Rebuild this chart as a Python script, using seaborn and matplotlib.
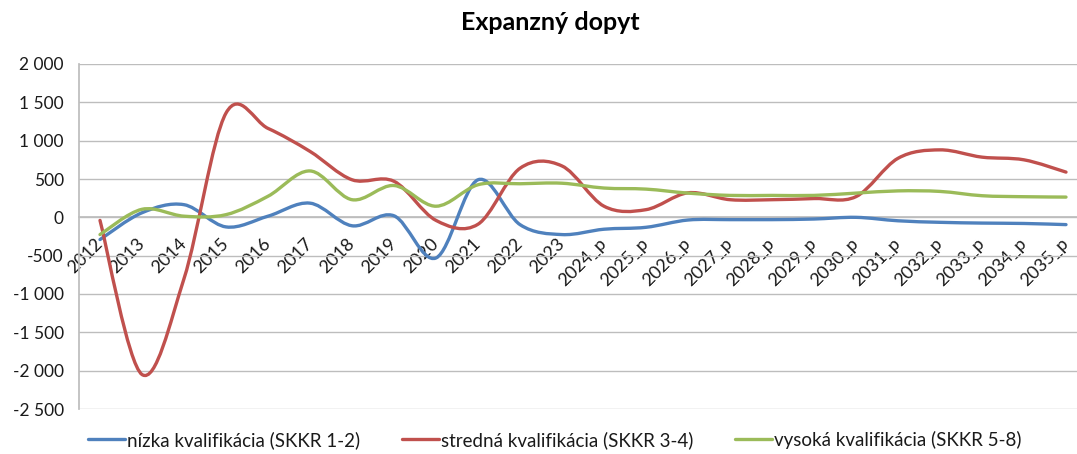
import numpy as np
import pandas as pd
import matplotlib
matplotlib.use("Agg")
import matplotlib.pyplot as plt
from matplotlib.path import Path
from matplotlib.patches import PathPatch
from matplotlib.lines import Line2D
from matplotlib.ticker import FuncFormatter
import seaborn as sns

# data
years = ["2012", "2013", "2014", "2015", "2016", "2017", "2018", "2019", "2020", "2021",
         "2022", "2023", "2024_p", "2025_p", "2026_p", "2027_p", "2028_p", "2029_p",
         "2030_p", "2031_p", "2032_p", "2033_p", "2034_p", "2035_p"]
nizka = [-290, 60, 165, -125, 15, 185, -110, 20, -530, 490, -95, -225,
         -155, -130, -35, -30, -30, -22, 0, -45, -65, -75, -80, -95]
stredna = [-40, -2050, -800, 1360, 1160, 860, 490, 470, -40, -90, 640, 670,
           145, 100, 320, 230, 230, 245, 270, 770, 880, 785, 750, 590]
vysoka = [-225, 105, 15, 35, 275, 605, 230, 415, 145, 425, 438, 445,
          382, 368, 316, 286, 286, 286, 316, 345, 338, 282, 269, 264]

series_names = ["nízka kvalifikácia (SKKR 1-2)",
                "stredná kvalifikácia (SKKR 3-4)",
                "vysoká kvalifikácia (SKKR 5-8)"]
colors = ["#4F81BD", "#C0504D", "#9BBB59"]

df = pd.DataFrame({"rok": years, series_names[0]: nizka,
                   series_names[1]: stredna, series_names[2]: vysoka})

sns.set_theme(style="whitegrid")
plt.rcParams["font.family"] = ["Lato", "DejaVu Sans"]


def smooth_path(x, y):
    # excel-like smoothed line: cubic bezier through every point
    n = len(x)
    verts = [(x[0], y[0])]
    codes = [Path.MOVETO]
    for i in range(n - 1):
        a = i - 1 if i > 0 else i
        b = i + 2 if i + 2 < n else i + 1
        c1 = (x[i] + (x[i + 1] - x[a]) / 6, y[i] + (y[i + 1] - y[a]) / 6)
        c2 = (x[i + 1] - (x[b] - x[i]) / 6, y[i + 1] - (y[b] - y[i]) / 6)
        verts += [c1, c2, (x[i + 1], y[i + 1])]
        codes += [Path.CURVE4] * 3
    return Path(verts, codes)


fig = plt.figure(figsize=(10.77, 4.54), dpi=100)
ax = fig.add_axes([79 / 1077, 45 / 454, 1008 / 1077, 345 / 454])

xpos = np.arange(len(years))
for name, col in zip(series_names, colors):
    p = smooth_path(xpos, df[name].values)
    ax.add_patch(PathPatch(p, facecolor="none", edgecolor=col, lw=2.4,
                           capstyle="round", joinstyle="round", zorder=3))

ax.set_xlim(-0.5, len(years) - 0.5)
ax.set_ylim(-2500, 2000)
ax.set_yticks(np.arange(-2500, 2001, 500))
ax.yaxis.set_major_formatter(FuncFormatter(lambda v, _: f"{int(v):,}".replace(",", " ")))

ax.grid(axis="y", color="#BDBDBD", lw=1.0)
ax.grid(axis="x", visible=False)
ax.set_facecolor("white")
for s in ["top", "right"]:
    ax.spines[s].set_visible(False)
ax.spines["left"].set_color("#BDBDBD")
ax.spines["bottom"].set_color("#BDBDBD")
ax.spines["bottom"].set_position(("data", 0))

ax.set_xticks(xpos)
ax.set_xticklabels(years, rotation=45, ha="right", va="center", rotation_mode="anchor")
ax.tick_params(axis="x", length=0, pad=17, labelsize=13, labelcolor="#1a1a1a")
ax.tick_params(axis="y", length=0, pad=11, labelsize=12.5, labelcolor="#1a1a1a")
ax.set_xlabel("")
ax.set_ylabel("")

fig.text(0.511, 0.95, "Expanzný dopyt", ha="center", va="center",
         fontsize=18, fontweight="bold", color="black")

handles = [Line2D([0], [0], color=c, lw=2.4) for c in colors]
fig.legend(handles, series_names, loc="center", bbox_to_anchor=(0.515, 0.031),
           ncol=3, frameon=False, fontsize=13.5, handlelength=2.0,
           handletextpad=0.1, columnspacing=2.2, labelcolor="#1a1a1a")

fig.savefig("out.png", dpi=100)
